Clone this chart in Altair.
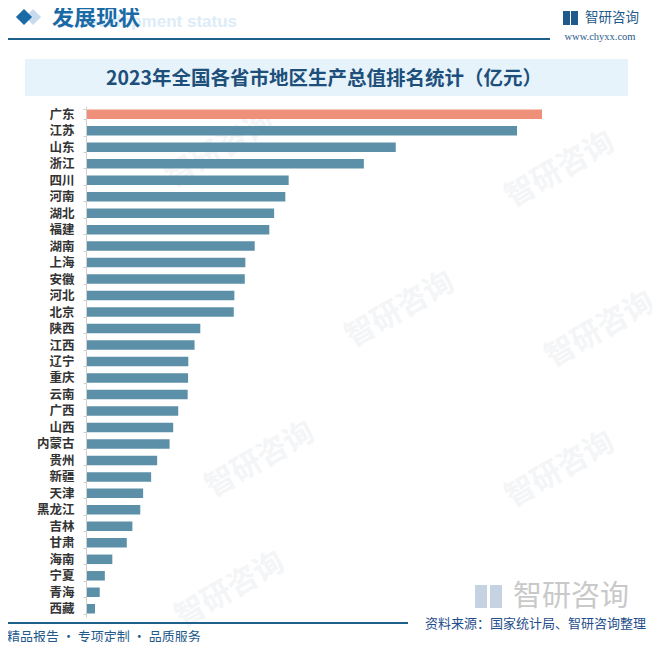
import altair as alt
import pandas as pd

provinces = ["广东", "江苏", "山东", "浙江", "四川", "河南", "湖北", "福建", "湖南", "上海",
             "安徽", "河北", "北京", "陕西", "江西", "辽宁", "重庆", "云南", "广西", "山西",
             "内蒙古", "贵州", "新疆", "天津", "黑龙江", "吉林", "甘肃", "海南", "宁夏", "青海", "西藏"]
gdp = [135673, 128222, 92069, 82553, 60133, 59132, 55804, 54355, 50013, 47219,
       47051, 43944, 43761, 33786, 32075, 30209, 30146, 30021, 27202, 25698,
       24627, 20913, 19126, 16737, 15884, 13531, 11864, 7551, 5315, 3799, 2393]
highlight = ["广东"]

title_text = "2023年全国各省市地区生产总值排名统计（亿元）"
header_text = "发展现状"
header_en = "Development status"
brand = "智研咨询"
site = "www.chyxx.com"
footer_left = "精品报告 · 专项定制 · 品质服务"
footer_right = "资料来源：国家统计局、智研咨询整理"

df = pd.DataFrame({"province": provinces, "gdp": gdp})
df["hl"] = df["province"].isin(highlight)

W, H = 455, 511
L, T = 79, 98
TOTAL_W, TOTAL_H = 644, 634

# helper: convert screenshot coords to plot-area coords
def px(x):
    return x - 8 - L

def py(y):
    return y - 8 - T

one = pd.DataFrame({"a": [0]})

bars = alt.Chart(df).mark_bar(height=9.5).encode(
    y=alt.Y("province:N", sort=provinces, title=None,
            scale=alt.Scale(paddingInner=0.42, paddingOuter=0.21),
            axis=alt.Axis(labelFontSize=12.5, labelFontWeight="bold", labelColor="#333333",
                          labelFont="Noto Sans CJK SC", domainColor="#d0d0d0", tickColor="#d0d0d0",
                          tickSize=3, tickBand="extent", labelPadding=9, offset=1, grid=False,
                          zindex=2)),
    x=alt.X("gdp:Q", scale=alt.Scale(domain=[0, 135673], nice=False), axis=None),
    color=alt.Color("hl:N", scale=alt.Scale(domain=[True, False], range=["#ef917a", "#5c90a8"]),
                    legend=None),
)

def rect(x1, x2, y1, y2, color, opacity=1.0):
    return alt.Chart(one).mark_rect(color=color, opacity=opacity).encode(
        x=alt.value(px(x1)), x2=alt.value(px(x2)), y=alt.value(py(y1)), y2=alt.value(py(y2)))

def rule(x1, x2, y, color, width):
    return alt.Chart(one).mark_rule(color=color, strokeWidth=width).encode(
        x=alt.value(px(x1)), x2=alt.value(px(x2)), y=alt.value(py(y)))

def text(s, x, y, size, color, align="left", weight="normal", font="Noto Sans CJK SC", angle=0, opacity=1.0):
    return alt.Chart(one).mark_text(text=s, fontSize=size, color=color, align=align, baseline="middle",
                                    fontWeight=weight, font=font, angle=angle, opacity=opacity).encode(
        x=alt.value(px(x)), y=alt.value(py(y)))

# faint watermarks (kept inside the bar area, clear of the labels)
wm_positions = [(220, 150), (560, 170), (400, 310), (600, 330),
                (260, 460), (560, 470), (230, 590)]
watermarks = []
for (wx, wy) in wm_positions:
    watermarks.append(text(brand, wx, wy, 30, "#f3f5f7", align="center", weight="bold", angle=330))

title_box = rect(25, 628, 59, 96, "#e6f3fb")
title = text(title_text, 324, 79, 19.5, "#1d4f7a", align="center", weight="bold")

header_en_t = text(header_en, 237, 22, 17, "#dcecf8", align="right", weight="bold", font="Liberation Sans")
diamond_light = alt.Chart(one).mark_point(shape="diamond", filled=True, color="#c6dcee", size=260,
                                          opacity=1).encode(x=alt.value(px(33)), y=alt.value(py(17)))
diamond_dark = alt.Chart(one).mark_point(shape="diamond", filled=True, color="#1a6aa6", size=260,
                                         opacity=1).encode(x=alt.value(px(24)), y=alt.value(py(17)))
header_t = text(header_text, 52, 18, 22, "#1a6aa6", weight="bold")
header_line = rule(7, 550, 39, "#1f5f8b", 2)

logo_icon1 = rect(563, 570, 11, 25, "#1f5a8a")
logo_icon2 = rect(571, 578, 11, 25, "#1f5a8a")
logo_text = text(brand, 585, 18, 13.5, "#1f5a8a")
site_t = text(site, 600, 37, 10.5, "#1f5a8a", align="center", font="Liberation Serif")

big_icon1 = rect(475, 487, 585, 608, "#c5d2e2")
big_icon2 = rect(490, 502, 585, 608, "#c5d2e2")
big_logo = text(brand, 513, 597, 29, "#c9c9c9")

footer_line = rule(6, 408, 623, "#1f5f8b", 2)
footer_l = text(footer_left, 7, 636.5, 13, "#1f5a8a")
footer_r = text(footer_right, 425, 624, 13, "#1f4e8c")

layers = watermarks + [title_box, title, header_en_t, diamond_light, diamond_dark, header_t, header_line,
                       logo_icon1, logo_icon2, logo_text, site_t, big_icon1, big_icon2, big_logo,
                       footer_line, footer_l, footer_r, bars]

chart = alt.layer(*layers).properties(
    width=W, height=H,
    autosize=alt.AutoSizeParams(type="none"),
    padding={"left": L, "top": T, "right": TOTAL_W - L - W, "bottom": TOTAL_H - T - H},
    background="white",
).configure_view(stroke=None)

chart.save("out.html", embed_options={"renderer": "svg", "actions": False})
